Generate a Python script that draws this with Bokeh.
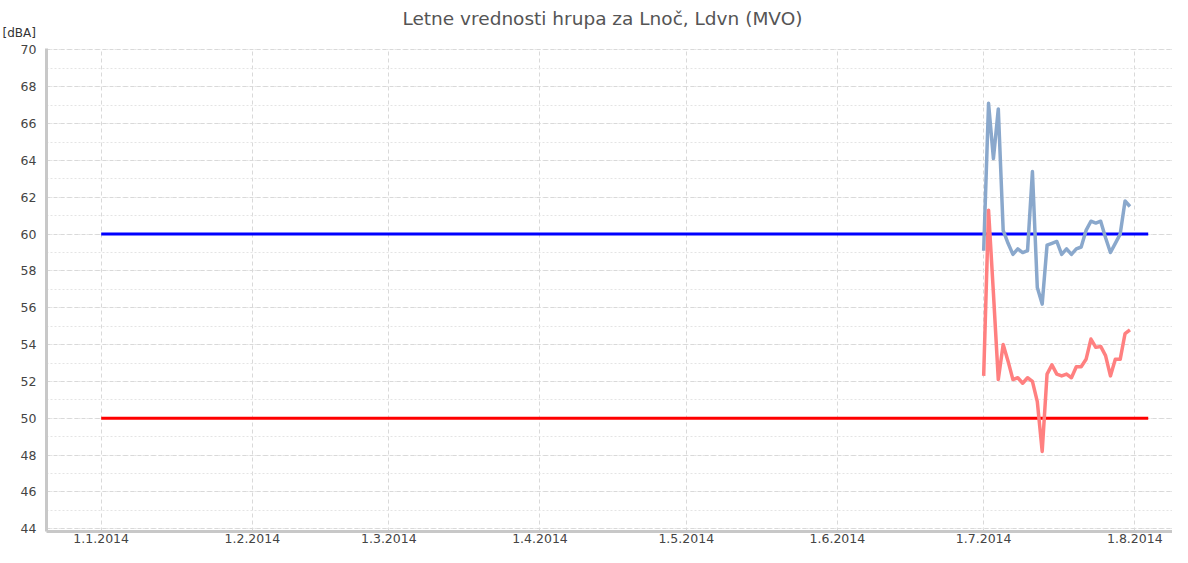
import pandas as pd
from bokeh.plotting import figure
from bokeh.models import FixedTicker, Range1d, Title
from bokeh.embed import file_html
from bokeh.resources import INLINE

# ---- data ----
title_text = "Letne vrednosti hrupa za Lnoč, Ldvn (MVO)"
unit_text = "[dBA]"

x_tick_dates = ["2014-01-01", "2014-02-01", "2014-03-01", "2014-04-01",
                "2014-05-01", "2014-06-01", "2014-07-01", "2014-08-01"]
x_tick_labels = ["1.1.2014", "1.2.2014", "1.3.2014", "1.4.2014",
                 "1.5.2014", "1.6.2014", "1.7.2014", "1.8.2014"]
y_ticks = [44, 46, 48, 50, 52, 54, 56, 58, 60, 62, 64, 66, 68, 70]

day_dates = pd.date_range("2014-07-01", "2014-07-31", freq="D")
ldvn = [59.1, 67.1, 64.1, 66.8, 60.2, 59.5, 58.9, 59.2, 59.0, 59.1,
        63.4, 57.1, 56.2, 59.4, 59.5, 59.6, 58.9, 59.2, 58.9, 59.2,
        59.3, 60.2, 60.7, 60.6, 60.7, 59.8, 59.0, 59.5, 60.0, 61.8, 61.5]
lnoc = [52.3, 61.3, 56.8, 52.1, 54.0, 53.1, 52.1, 52.2, 51.9, 52.2,
        52.0, 50.9, 48.2, 52.4, 52.9, 52.4, 52.3, 52.4, 52.2, 52.8,
        52.8, 53.2, 54.3, 53.85, 53.9, 53.4, 52.3, 53.2, 53.2, 54.6, 54.8]

limit_dates = ["2014-01-01 00:00", "2014-08-03 18:00"]
limit_ldvn = [60, 60]
limit_lnoc = [50, 50]

# ---- figure ----
def ms(d):
    return pd.Timestamp(d).value // 10**6

day_ms = 86400000
x_start = ms("2014-01-01") - 11.22 * day_ms
x_end = ms("2014-01-01") + 219.73 * day_ms

p = figure(width=1172, height=547, x_axis_type="datetime",
           output_backend="svg", toolbar_location=None,
           x_range=Range1d(x_start, x_end), y_range=Range1d(43.85, 70.08),
           min_border_left=46, min_border_right=0, min_border_top=48,
           min_border_bottom=16)
p.outline_line_color = None
p.background_fill_color = "white"

x_dt = pd.to_datetime(limit_dates, format="%Y-%m-%d %H:%M")
p.line(x_dt, limit_ldvn, line_color="#0000ff", line_width=3)
p.line(x_dt, limit_lnoc, line_color="#ff0000", line_width=3)
p.line(day_dates, ldvn, line_color="#8aa8cc", line_width=3.5, line_join="round")
p.line(day_dates, lnoc, line_color="#ff8080", line_width=3.5, line_join="round")

# axes
tick_ms = [ms(d) for d in x_tick_dates]
p.xaxis.ticker = FixedTicker(ticks=tick_ms)
p.xaxis.major_label_overrides = {t: lab for t, lab in zip(tick_ms, x_tick_labels)}
p.yaxis.ticker = FixedTicker(ticks=y_ticks, minor_ticks=list(range(44, 71)))

for ax in (p.xaxis[0], p.yaxis[0]):
    ax.axis_line_color = "#c8c8c8"
    ax.axis_line_width = 3
    ax.major_tick_out = 0
    ax.major_tick_in = 0
    ax.minor_tick_out = 0
    ax.minor_tick_in = 0
    ax.major_label_text_font = "DejaVu Sans"
    ax.major_label_text_font_size = "12.5px"
    ax.major_label_text_color = "#444444"
p.yaxis.major_label_standoff = 10
p.xaxis.major_label_standoff = 2

p.xgrid.grid_line_color = "#d9d9d9"
p.xgrid.grid_line_dash = "4 3"
p.ygrid.grid_line_color = "#d9d9d9"
p.ygrid.grid_line_dash = "4 3"
p.ygrid.minor_grid_line_color = "#e4e4e4"
p.ygrid.minor_grid_line_dash = "2 2"

p.title.text = title_text
p.title.align = "left"
p.title.offset = 356
p.title.text_font = "DejaVu Sans"
p.title.text_font_size = "18.5px"
p.title.text_font_style = "normal"
p.title.text_color = "#555555"
p.title.vertical_align = "bottom"
p.title.standoff = -18

p.add_layout(Title(text=unit_text, align="left", offset=-44,
                   text_font="DejaVu Sans", text_font_size="12px",
                   text_font_style="normal", text_color="#333333",
                   vertical_align="top", standoff=13), "above")

open("out.html", "w").write(file_html(p, INLINE))
